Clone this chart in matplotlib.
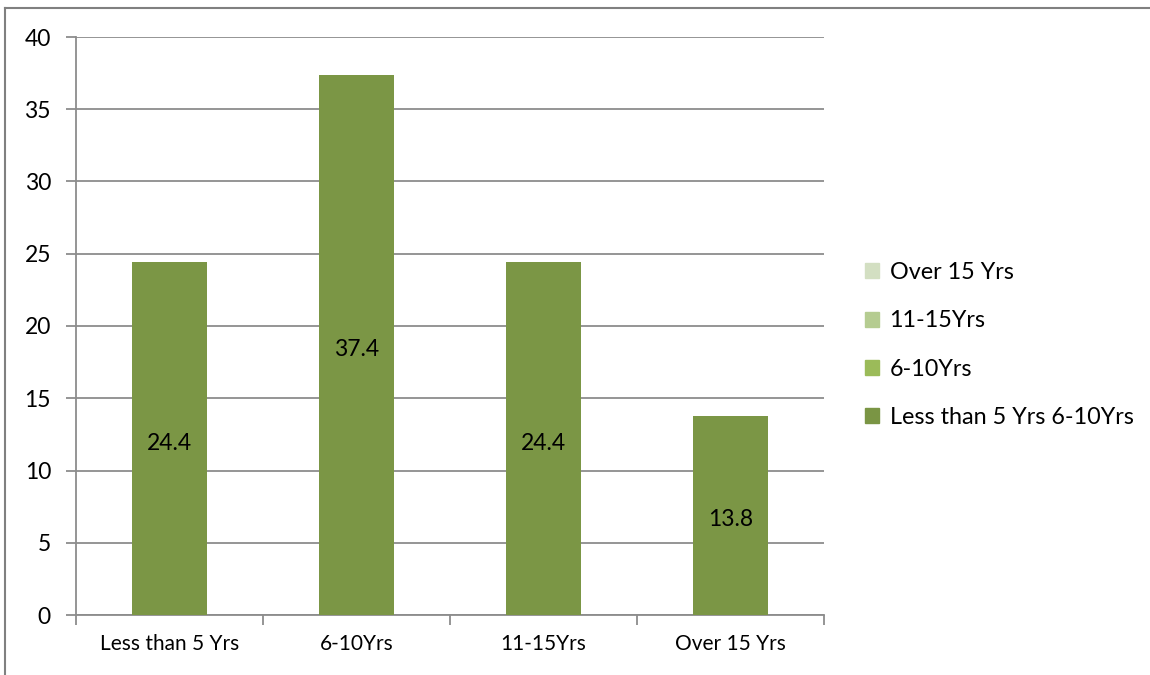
import matplotlib.pyplot as plt
import matplotlib.patches as mpatches

plt.rcParams['font.family'] = ['Lato', 'DejaVu Sans']

categorias = ['Less than 5 Yrs', '6-10Yrs', '11-15Yrs', 'Over 15 Yrs']
valores = [24.4, 37.4, 24.4, 13.8]
legenda_labels = ['Over 15 Yrs', '11-15Yrs', '6-10Yrs', 'Less than 5 Yrs 6-10Yrs']
legenda_cores = ['#d3dfc2', '#b5cc91', '#9bbb59', '#7a9544']
cor_barra = '#7b9645'
cor_grade = '#8c8c8c'

fig = plt.figure(figsize=(11.5, 6.75), dpi=100)
ax = fig.add_axes([76/1150, 1 - 615/675, (824 - 76)/1150, (615 - 37)/675])

x = list(range(len(categorias)))
ax.bar(x, valores, width=0.4, color=cor_barra, zorder=3)
for xi, v in zip(x, valores):
    ax.text(xi, v / 2 - 0.3, f'{v:.1f}', ha='center', va='center', fontsize=16.5, color='black', zorder=4)

ax.set_xlim(-0.5, len(categorias) - 0.5)
ax.set_ylim(0, 40)
ax.set_yticks(range(0, 41, 5))
ax.yaxis.grid(True, color=cor_grade, linewidth=1.3, zorder=0)
ax.set_xticks(x)
ax.set_xticklabels(categorias)
ax.set_xticks([-0.5, 0.5, 1.5, 2.5, 3.5], minor=True)
ax.tick_params(axis='x', which='major', length=0, pad=14, labelsize=15)
ax.tick_params(axis='x', which='minor', length=7, color=cor_grade, width=1.3)
ax.tick_params(axis='y', length=7, color=cor_grade, width=1.3, labelsize=16.5, pad=11)
for lado in ['top', 'right']:
    ax.spines[lado].set_visible(False)
for lado in ['left', 'bottom']:
    ax.spines[lado].set_color(cor_grade)
    ax.spines[lado].set_linewidth(1.3)

handles = [mpatches.Patch(color=c, label=l) for c, l in zip(legenda_cores, legenda_labels)]
fig.legend(handles=handles, loc='center left', bbox_to_anchor=(844/1150, 1 - 345/675),
           frameon=False, fontsize=16.8, handlelength=0.6, handleheight=0.6,
           handletextpad=0.45, labelspacing=1.17)

# borda externa do quadro
fig.add_artist(plt.Line2D([5/1150, 5/1150], [0, 1 - 8/675], color='#808080', linewidth=1.5))
fig.add_artist(plt.Line2D([5/1150, 1], [1 - 8/675, 1 - 8/675], color='#808080', linewidth=1.5))

fig.savefig('out.png', dpi=100)
